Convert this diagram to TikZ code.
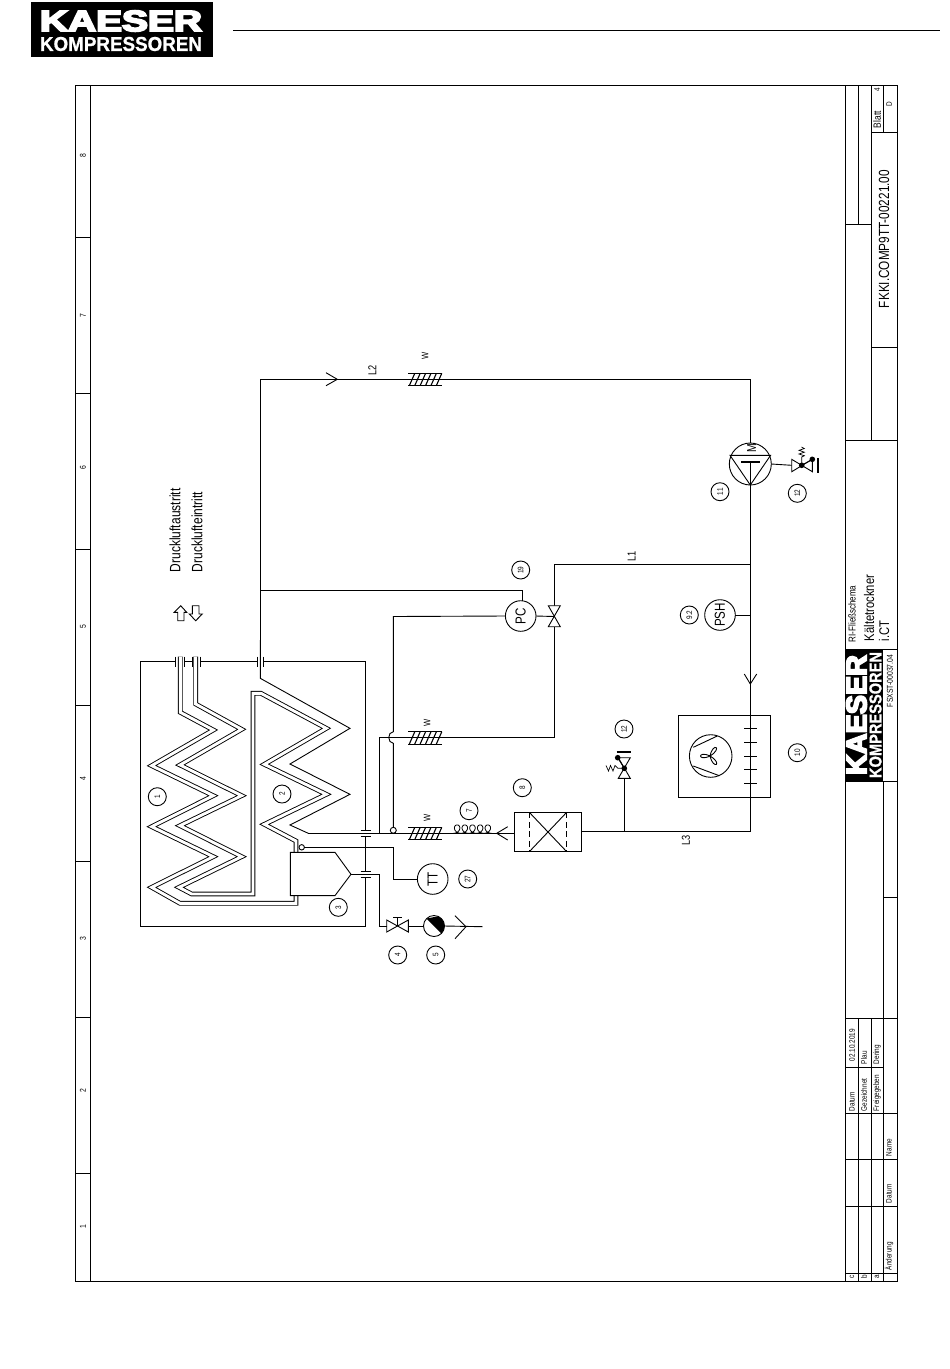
\documentclass[tikz,border=0pt]{standalone}
\usepackage{fontspec}
\usepackage{graphicx}
\setmainfont{Liberation Sans}
\newfontfamily\nar[FakeStretch=0.8]{Liberation Sans}
\newfontfamily\logoheavy[BoldFeatures={FakeBold=6}]{Liberation Sans}
\newfontfamily\logomed[BoldFeatures={FakeBold=1}]{Liberation Sans}
\newcommand\sz[1]{\nar\fontsize{#1}{#1}\selectfont}
\newcommand\wex[2]{%
  \draw (#1,#2) -- ++(33.4,0) (#1,#2+12.4) -- ++(33.4,0);
  \foreach \i in {0,...,5}{\draw[line width=1.1pt] (#1+1+5.4*\i,#2+12.4) -- (#1+6.5+5.4*\i,#2);}}
\tikzset{
  rt/.style={rotate=90,inner sep=0pt,outer sep=0pt},
  numc/.style={draw,circle,minimum size=18pt,inner sep=0pt,outer sep=0pt},
  inst/.style={draw,circle,minimum size=30.6pt,inner sep=0pt,outer sep=0pt},
  dpipe/.style={double=white,double distance=2.9pt,miter limit=20},
  heavybar/.style={line width=1.6pt},
}
\begin{document}
\begin{tikzpicture}[x=1pt,y=-1pt,line width=.9pt,line join=miter]
\useasboundingbox (0,0) rectangle (950,1369);
% ---------- header
\node[fill=black,minimum width=182pt,minimum height=55pt,inner sep=0pt,outer sep=0pt] (hdrlogo) at (122,29.5) {};
\node[inner sep=0pt,text=white] (hdrkaeser) at (121,21) {\resizebox{162pt}{20.5pt}{\logoheavy\bfseries KAESER}};
\node[inner sep=0pt,text=white] (hdrkomp) at (121,44) {\resizebox{162pt}{14pt}{\logomed\bfseries\fontsize{12}{12}\selectfont KOMPRESSOREN}};
\coordinate (hl) at (233,30); \coordinate (hr) at (940,30);
\draw (hl) -- (hr);
% ---------- frame
\draw (75,85) rectangle (897,1281.5);
\draw (90,85) -- (90,1281.5);
\foreach \y in {237,393,549,705,861,1017,1173}{\draw (75,\y) -- (90,\y);}
\foreach \n/\y in {8/156,7/316,6/468,5/627,4/779,3/939,2/1091,1/1227}{\node[rt,font=\sz{8.5}] (r\n) at (83,\y) {\n};}
% ---------- title block
\draw (845,85) -- (845,1281.5);
\draw (858,85) -- (858,224) (871,85) -- (871,440) (883,85) -- (883,132);
\draw (845,224) -- (871,224) (871,132) -- (897,132) (871,347) -- (897,347);
\draw (845,440) -- (897,440) (845,649) -- (897,649) (845,781) -- (897,781);
\draw (883,781) -- (883,1281.5) (883,897) -- (897,897) (845,1018) -- (897,1018);
\draw (858,1018) -- (858,1281.5) (871,1018) -- (871,1281.5);
\draw (845,1067) -- (883,1067);
\foreach \y in {1113,1159,1206,1273}{\draw (845,\y) -- (897,\y);}
\node[rt,font=\sz{14.7},anchor=west] (tdoc) at (884,308) {FKKI.COMP9TT-00221.00};
\node[rt,font=\sz{10.5},anchor=west] (tblatt) at (877,128) {Blatt};
\node[rt,font=\sz{8}] (tfour) at (877,90) {4};
\node[rt,font=\sz{8}] (td) at (889,104) {D};
\node[rt,font=\sz{10},anchor=west] (tri) at (852,642) {RI-Fließschema};
\node[rt,font=\sz{14},anchor=west] (tkt) at (869,641) {Kältetrockner};
\node[rt,font=\sz{14},anchor=west] (tict) at (884,641) {i.CT};
\node[fill=black,minimum width=38pt,minimum height=132pt,inner sep=0pt,outer sep=0pt] (tblogo) at (864,715) {};
\node[rt,text=white] (tbk) at (856.5,715) {\resizebox{120pt}{20pt}{\logoheavy\bfseries KAESER}};
\node[rt,text=white] (tbk2) at (875.5,715) {\resizebox{126pt}{12pt}{\logomed\bfseries\fontsize{12}{12}\selectfont KOMPRESSOREN}};
\node[rt,font=\sz{8.5},anchor=west] (tfs) at (890,707) {FSXST-00037.04};
\node[rt,font=\sz{8},anchor=east] (t1) at (852,1029) {02.10.2019};
\node[rt,font=\sz{8},anchor=west] (t2) at (852,1111) {Datum};
\node[rt,font=\sz{8},anchor=west] (t3) at (864,1064) {Plau};
\node[rt,font=\sz{8},anchor=west] (t4) at (864,1111) {Gezeichnet};
\node[rt,font=\sz{8},anchor=west] (t5) at (877,1064) {Dering};
\node[rt,font=\sz{8},anchor=west] (t6) at (877,1111) {Freigegeben};
\node[rt,font=\sz{8},anchor=west] (t7) at (889,1156) {Name};
\node[rt,font=\sz{8},anchor=west] (t8) at (889,1203) {Datum};
\node[rt,font=\sz{8},anchor=west] (t9) at (889,1270) {Änderung};
\node[rt,font=\sz{8}] (tc) at (852,1277) {c};
\node[rt,font=\sz{8}] (tb) at (864,1277) {b};
\node[rt,font=\sz{8}] (ta) at (877,1277) {a};
% ---------- air labels
\node[rt,font=\sz{15},anchor=west] (aus) at (175,572) {Druckluftaustritt};
\node[rt,font=\sz{15},anchor=west] (ein) at (197,572) {Drucklufteintritt};
\draw (180.7,605.7) -- (186.7,612.3) -- (184,612.3) -- (184,620.7) -- (177.7,620.7) -- (177.7,612.3) -- (174.3,612.3) -- cycle;
\draw (195.7,620.7) -- (202.3,614) -- (199,614) -- (199,605.7) -- (192.3,605.7) -- (192.3,614) -- (189.3,614) -- cycle;
% ---------- instrument and number nodes
\node[inst] (pc) at (520.7,616) {}; \node[rt,font=\sz{14.5}] at (520.7,616) {PC};
\node[inst] (psh) at (720,615) {}; \node[rt,font=\sz{14.5}] at (720,615) {PSH};
\node[inst] (tt) at (432.7,879) {}; \node[rt,font=\sz{14.5}] at (432.7,879) {TT};
\node[draw,circle,minimum size=42pt,inner sep=0pt,outer sep=0pt] (comp) at (750.3,464) {};
\node[draw,circle,minimum size=42.6pt,inner sep=0pt,outer sep=0pt] (fan) at (710.7,756) {};
\node[draw,circle,minimum size=21pt,inner sep=0pt,outer sep=0pt] (sglas) at (434,926) {};
\foreach \n/\lab/\px/\py in {n1/1/157.3/796.7,n2/2/282/794,n3/3/338.3/907.3,n4/4/397.7/955,n5/5/435.7/955,n7/7/469/810.7,n8/8/522.3/787.7,n12a/12/624/729,n10/10/797.3/752.7,n27/27/467.7/879,n19/19/520.7/570,n92/9.2/689.3/615,n11/11/720/491.7,n12b/12/797.3/493.3}{
  \node[numc] (\n) at (\px,\py) {};
  \node[rt,font=\sz{8}] at (\px,\py) {\lab};
}
% ---------- key connection points
\coordinate (tl) at (260.3,379.3);
\coordinate (tb0) at (260.3,641);
\coordinate (tr) at (750.3,379.3);
\coordinate (br) at (750.3,831.3);
\coordinate (filtr) at (581.3,831.3);
\coordinate (filtl) at (514.3,833.3);
\coordinate (coilout) at (308.3,833.3);
\coordinate (l1r) at (750.3,564.3);
\coordinate (l1l) at (554.3,564.3);
\coordinate (vpct) at (554.3,605.7);
\coordinate (vpcb) at (554.3,626.7);
\coordinate (vpcc) at (554.3,616.5);
\coordinate (l4) at (554.3,737.3);
\coordinate (l5) at (379.3,737.3);
\coordinate (l6) at (379.3,833.3);
\coordinate (pt) at (393.3,616.5);
\coordinate (bumpa) at (393.3,731.7);
\coordinate (bumpb) at (393.3,743.3);
\node[draw,circle,minimum size=6pt,inner sep=0pt,outer sep=0pt,fill=white] (sens1) at (393.3,830.3) {};
\node[draw,circle,minimum size=5.4pt,inner sep=0pt,outer sep=0pt] (sens2) at (301.7,847.3) {};
% ---------- main piping
\draw (tb0) -- (tl) -- (tr) -- (comp.north);
\draw (comp.south) -- (br) -- (filtr);
\draw (l1r) -- (l1l) -- (vpct);
\draw (vpcb) -- (l4) -- (l5) -- (l6);
\draw (coilout) -- (filtl);
\draw (pc.west) -- (pt) -- (bumpa) .. controls (387.3,732) and (387.3,743) .. (bumpb) -- (sens1.north);
\draw (pc.east) -- (vpcc);
\draw (tl |- 0,590) -- (522.3,590) -- (522.3,600.7);
\draw (psh.east) -- (750.3,615);
% chevrons
\draw (326,372.7) -- (337.3,379.3) -- (326,385.7);
\draw (744.3,674) -- (750.3,684) -- (756.7,674);
\draw (507.7,826.7) -- (496.7,833.3) -- (507.7,840);
% heat exchanger bars
\wex{408.3}{373.3}
\wex{408.3}{731.7}
\wex{408.3}{827.3}
\node[rt,font=\sz{9.5}] (w1) at (425,355.7) {W};
\node[rt,font=\sz{9.5}] (w2) at (427,723.3) {W};
\node[rt,font=\sz{9.5}] (w3) at (427,817.7) {W};
\node[rt,font=\sz{11.5}] (l1lab) at (631.7,556.7) {L1};
\node[rt,font=\sz{11.5}] (l2lab) at (372.3,370) {L2};
\node[rt,font=\sz{11.5}] (l3lab) at (686,840) {L3};
% coil 7
\draw[line width=.8pt] plot[domain=180:1980,samples=241,smooth] ({453.3+0.0213*(\x-180)-4.5*sin(\x)},{833.3-4.2*(1+cos(\x))});
% filter 8
\draw (514.3,812.3) rectangle (581.3,851.7);
\draw[dash pattern=on 6pt off 3.5pt] (529.3,812.3) -- (529.3,851.7) (566.7,812.3) -- (566.7,851.7);
\draw (529.3,812.3) -- (566.7,851.7) (529.3,851.7) -- (566.7,812.3);
% condenser 10
\draw (678.3,715.3) rectangle (770.3,797);
\foreach \y in {728.3,742.3,756.3,769.3,783.3}{\draw (744,\y) -- (756.7,\y);}
\draw (693.3,747.3) -- (717.3,736) (693.3,766) -- (719.3,775.7);
\draw (710,756) .. controls (713.2,741.2) and (723,748.2) .. (710,756)
      .. controls (723.2,763.6) and (713.6,770.8) .. (710,756)
      .. controls (697.4,762) and (697.4,750) .. (710,756);
% compressor 11
\draw (730,455.3) -- (770.6,455.3) -- (750.3,485) -- cycle;
\node[rt,font=\sz{13}] (mlab) at (751.7,448.5) {M};
\draw[heavybar] (741,461.7) -- (760,461.7);
\draw (750.3,461.7) -- (750.3,484);
% valve 12 at compressor
\coordinate (v12c) at (801.7,465.3);
\draw (comp.east) -- (791.7,465.3);
\draw (791.7,459.3) -- (812.3,471.7) -- (812.3,459.3) -- (791.7,471.7) -- cycle;
\fill (v12c) circle[radius=2.8];
\draw (v12c) -- (812.3,459.3);
\fill (812.3,459.3) circle[radius=2.8];
\draw[heavybar] (818,458.3) -- (818,472.7);
\draw[line width=.7pt] (v12c) -- (801.7,457) -- (804.3,455.7) -- (799,454) -- (804.3,452.2) -- (799,450.3) -- (804.3,448.6) -- (801.5,447);
% valve 12 on L3
\coordinate (v12d) at (624.3,768.3);
\draw (624.3,831.3) -- (624.3,778.3);
\draw (618.3,757.7) -- (630.3,757.7) -- (618.3,778.3) -- (630.3,778.3) -- cycle;
\fill (v12d) circle[radius=2.8];
\draw (v12d) -- (617.7,757.7);
\fill (617.7,757.7) circle[radius=2.8];
\draw[heavybar] (616.7,751.7) -- (631,751.7);
\draw[line width=.7pt] (v12d) -- (618,768.3) -- (615,765.5) -- (613,771) -- (610.5,765.5) -- (608.5,771) -- (606,765.5);
% valve at PC
\draw[fill=white] (548.3,605.7) -- (560.3,605.7) -- (548.3,626.7) -- (560.3,626.7) -- cycle;
% ---------- separator block, coils (reference zoom units)
\begin{scope}[x=.33333pt,y=-.33333pt,shift={(390,1920)}]
\draw (137,64) -- (32,64) -- (32,858) -- (707,858) -- (707,712)
      (707,694) -- (707,590) (707,572) -- (707,64) -- (400,64)
      (383,64) -- (212,64) (186,64) -- (163,64);
\foreach \x in {137,163,186,212,383,400}{\draw (\x,50) -- (\x,80);}
\foreach \y in {572,590,694,712}{\draw (692,\y) -- (722,\y);}
\draw (391,0) -- (391,115) -- (660,265) -- (480,372) -- (660,463) -- (480,555) -- (535,580);
\draw[dpipe] (197,50) -- (197,192) -- (335,268) -- (150,375) -- (335,467) -- (150,557) -- (335,650) -- (147,742) -- (185,762) -- (369,762) -- (369,160) -- (393,160) -- (589,265) -- (403,373) -- (589,463) -- (403,553) -- (498,603) -- (498,637);
\draw[dpipe] (151,50) -- (151,217) -- (250,270) -- (65,377) -- (250,467) -- (65,560) -- (250,650) -- (65,742) -- (150,790) -- (498,790) -- (498,767);
\draw (481,637) -- (615,637) -- (663,703) -- (615,767) -- (481,767) -- cycle;
\end{scope}
% ---------- outlet line and valve 4, gauge 5
\coordinate (vesout) at (351,874.3);
\coordinate (oc) at (379.3,874.3);
\coordinate (od) at (379.3,926);
\draw (vesout) -- (oc) -- (od) -- (386.7,926);
\draw (386.7,920) -- (408.3,932) -- (408.3,920) -- (386.7,932) -- cycle;
\draw (397.5,926) -- (397.5,917.3) (393,917.3) -- (402,917.3);
\draw (408.3,926) -- (sglas.west);
\begin{scope}
\clip (434,926) circle[radius=10.5];
\fill (426.5,918.5) -- (445,915) -- (445,937) -- (441.5,933.5) -- cycle;
\end{scope}
\draw (sglas.east) -- (482.7,926.7);
\draw (455,915.7) -- (466,926.7) -- (455,938.7);
% temperature sensor line
\draw (sens2.east) -- (393.3,847.3) -- (393.3,879) -- (tt.west);
\end{tikzpicture}
\end{document}
